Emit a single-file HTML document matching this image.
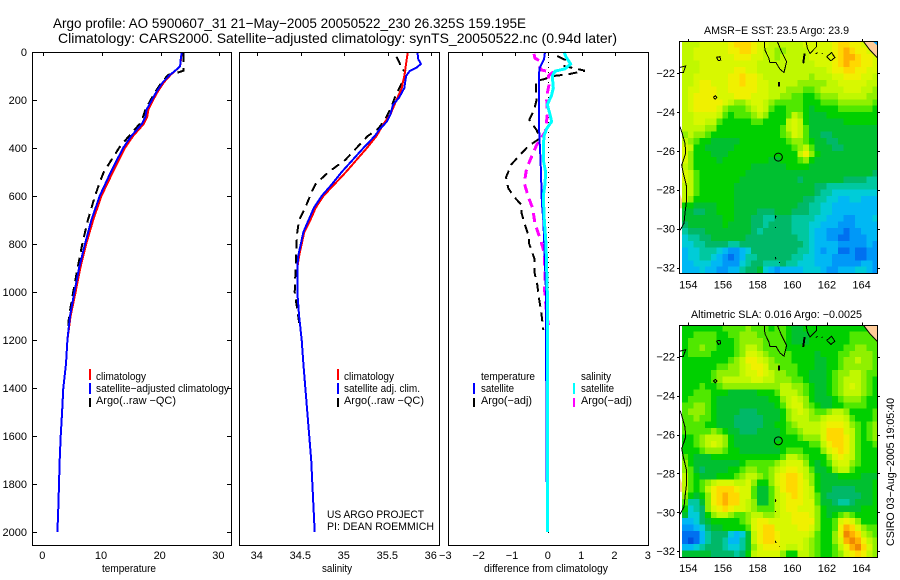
<!DOCTYPE html>
<html>
<head>
<meta charset="utf-8">
<title>Argo profile</title>
<style>
html,body{margin:0;padding:0;background:#fff}
svg{display:block}
text{font-family:"Liberation Sans",sans-serif;fill:#000;font-size:11px}
.t{font-size:14px}
</style>
</head>
<body>
<svg id="fig" width="900" height="580" viewBox="0 0 900 580" xmlns="http://www.w3.org/2000/svg">
<defs>
<clipPath id="clip1"><rect x="680" y="42" width="198" height="232"/></clipPath>
<clipPath id="clip2"><rect x="680" y="326" width="198" height="232"/></clipPath>
</defs>
<rect width="900" height="580" fill="#fff"/>
<text class="t" x="53" y="28" textLength="473" lengthAdjust="spacingAndGlyphs">Argo profile: AO 5900607_31 21−May−2005 20050522_230 26.325S 159.195E</text>
<text class="t" x="58" y="43" textLength="559" lengthAdjust="spacingAndGlyphs">Climatology: CARS2000. Satellite−adjusted climatology: synTS_20050522.nc (0.94d later)</text>

<g id="p1"></g>
<g id="p2"></g>
<g id="p3"></g>
<g id="m1"></g>
<g id="m2"></g>

<rect x="32.5" y="52.5" width="199" height="493" fill="none" stroke="#000"/>
<rect x="239.5" y="52.5" width="200" height="493" fill="none" stroke="#000"/>
<rect x="448.5" y="52.5" width="200" height="493" fill="none" stroke="#000"/>
<rect x="679.5" y="41.5" width="198" height="232" fill="none" stroke="#000"/>
<rect x="679.5" y="325.5" width="198" height="232" fill="none" stroke="#000"/>

<text x="102" y="572" textLength="54" lengthAdjust="spacingAndGlyphs">temperature</text>
<text x="322" y="572" textLength="30" lengthAdjust="spacingAndGlyphs">salinity</text>
<text x="484" y="572" textLength="124" lengthAdjust="spacingAndGlyphs">difference from climatology</text>

<g>
<line x1="90" x2="90" y1="369" y2="380" stroke="#f00" stroke-width="2"/>
<line x1="90" x2="90" y1="383" y2="394" stroke="#00f" stroke-width="2"/>
<line x1="90" x2="90" y1="398" y2="407" stroke="#000" stroke-width="2"/>
<text x="96" y="380" textLength="50" lengthAdjust="spacingAndGlyphs">climatology</text>
<text x="96" y="392" textLength="133" lengthAdjust="spacingAndGlyphs">satellite−adjusted climatology</text>
<text x="96" y="404" textLength="80" lengthAdjust="spacingAndGlyphs">Argo(..raw −QC)</text>
</g>
<g>
<line x1="338" x2="338" y1="369" y2="380" stroke="#f00" stroke-width="2"/>
<line x1="338" x2="338" y1="383" y2="394" stroke="#00f" stroke-width="2"/>
<line x1="338" x2="338" y1="398" y2="407" stroke="#000" stroke-width="2"/>
<text x="344" y="380" textLength="50" lengthAdjust="spacingAndGlyphs">climatology</text>
<text x="344" y="392" textLength="76" lengthAdjust="spacingAndGlyphs">satellite adj. clim.</text>
<text x="344" y="404" textLength="80" lengthAdjust="spacingAndGlyphs">Argo(..raw −QC)</text>
</g>
<text x="327" y="518" textLength="97" lengthAdjust="spacingAndGlyphs">US ARGO PROJECT</text>
<text x="327" y="530" textLength="107" lengthAdjust="spacingAndGlyphs">PI: DEAN ROEMMICH</text>

<g>
<line x1="474" x2="474" y1="383" y2="394" stroke="#00f" stroke-width="2"/>
<line x1="474" x2="474" y1="398" y2="407" stroke="#000" stroke-width="2"/>
<text x="481" y="380" textLength="54" lengthAdjust="spacingAndGlyphs">temperature</text>
<text x="481" y="392" textLength="33" lengthAdjust="spacingAndGlyphs">satellite</text>
<text x="481" y="404" textLength="51" lengthAdjust="spacingAndGlyphs">Argo(−adj)</text>
<line x1="574" x2="574" y1="383" y2="394" stroke="#0ff" stroke-width="2"/>
<line x1="574" x2="574" y1="398" y2="407" stroke="#f0f" stroke-width="2"/>
<text x="581" y="380" textLength="30" lengthAdjust="spacingAndGlyphs">salinity</text>
<text x="581" y="392" textLength="33" lengthAdjust="spacingAndGlyphs">satellite</text>
<text x="581" y="404" textLength="51" lengthAdjust="spacingAndGlyphs">Argo(−adj)</text>
</g>

<text x="704" y="34" textLength="145" lengthAdjust="spacingAndGlyphs">AMSR−E SST: 23.5 Argo: 23.9</text>
<text x="691" y="318" textLength="171" lengthAdjust="spacingAndGlyphs">Altimetric SLA: 0.016 Argo: −0.0025</text>
<text transform="translate(894,546) rotate(-90)" textLength="148" lengthAdjust="spacingAndGlyphs">CSIRO 03−Aug−2005 19:05:40</text>
</svg>

<script>
const depthTicks = [0,200,400,600,800,1000,1200,1400,1600,1800,2000];
const tempTicks = [0,10,20,30];
const salTicks = [34,34.5,35,35.5,36];
const salTickLabels = ['34','34.5','35','35.5','36'];
const diffTicks = [-3,-2,-1,0,1,2,3];
const lonTicks = [154,156,158,160,162,164];
const latTicks = [-22,-24,-26,-28,-30,-32];

const tempSatDepth = [0,30,60,75,95,125,165,200,240,270,300,350,400,500,600,700,800,900,1000,1100,1200,1300,1400,1500,1600,1700,1800,1900,2000];
const tempSat = [23.6,23.4,23.3,22.6,21.6,20.4,19.3,18.5,17.6,17.4,16.8,15.0,13.6,11.5,9.6,8.2,7.1,6.1,5.3,4.55,4.1,3.87,3.4,3.2,2.96,2.8,2.67,2.56,2.4];
const tempClimDepth = [0,60,95,125,165,200,240,270,300,350,400,500,600,700,800,900,1000,1100,1200];
const tempClim = [23.6,23.3,21.7,20.6,19.5,18.7,17.9,17.7,17.1,15.3,13.9,11.85,9.9,8.5,7.3,6.3,5.5,4.65,4.1];
const tempArgoDepth = [5,30,60,78,85,95,125,165,200,240,270,300,350,400,450,500,540,600,700,800,900,1000,1100,1150];
const tempArgo = [23.9,23.9,23.9,23.9,23,21.3,20.2,19.1,18.3,17.4,17.0,16.4,14.6,12.9,11.6,10.3,9.66,8.8,7.6,6.65,5.85,5.1,4.4,4.2];

const salSatDepth = [0,30,50,65,80,100,150,190,220,260,290,320,350,400,500,550,600,650,700,750,800,850,900,950,1000,1100,1200,1300,1500,1700,2000];
const salSat = [35.84,35.85,35.88,35.83,35.75,35.71,35.69,35.63,35.56,35.53,35.49,35.41,35.35,35.22,34.97,34.86,34.74,34.65,34.59,34.53,34.50,34.47,34.46,34.46,34.46,34.48,34.51,34.53,34.575,34.62,34.66];
const salClimDepth = [0,100,150,200,260,300,350,400,500,600,650,700,750,850,900,1000,1100];
const salClim = [35.73,35.69,35.66,35.60,35.53,35.45,35.37,35.26,35.02,34.76,34.67,34.61,34.54,34.48,34.46,34.46,34.48];
const salArgoDepth = [20,50,70,80,100,130,190,230,280,320,350,400,450,500,550,580,650,700,750,800,900,1000,1100,1150];
const salArgo = [35.60,35.64,35.65,35.70,35.69,35.66,35.58,35.54,35.47,35.39,35.27,35.14,35.01,34.82,34.67,34.63,34.55,34.48,34.46,34.45,34.44,34.43,34.47,34.49];

const diffTempSatDepth = [0,30,50,70,150,250,350,400,500,600,650,700,800,1000,1150,2000];
const diffTempSat = [-0.1,-0.13,-0.2,-0.27,-0.28,-0.28,-0.27,-0.25,-0.22,-0.2,-0.18,-0.15,-0.12,-0.07,-0.07,-0.04];
const diffSalSatDepth = [0,20,50,70,80,100,150,180,220,260,290,320,350,400,450,500,550,600,700,800,1000,1300,2000];
const diffSalSat = [0.47,0.53,0.67,0.5,0.2,0.12,0.15,0.1,-0.03,0.05,0.1,-0.05,-0.13,-0.15,-0.15,-0.08,-0.1,-0.15,-0.12,-0.07,-0.03,-0.02,-0.02];
const diffTempArgoDepth = [17,33,58,78,93,100,114,120,172,200,242,283,325,360,392,422,467,522,568,603,638,672,720,776,797,860,915,971,1026,1096,1158];
const diffTempArgo = [0.27,0.5,0.45,1.1,0.6,0.15,-0.15,-0.37,-0.37,-0.35,-0.43,-0.57,-0.35,-0.25,-0.6,-0.8,-1.1,-1.27,-1.2,-1.03,-0.8,-0.8,-0.7,-0.57,-0.58,-0.42,-0.42,-0.33,-0.28,-0.2,-0.15];
const diffSalArgoDepth = [8,26,36,61,75,85,100,137,186,262,332,388,429,485,547,603,651,714,776,832,908,992,1089,1158];
const diffSalArgo = [-0.43,-0.4,-0.27,-0.27,-0.2,0.13,0,0.02,-0.05,-0.03,-0.09,-0.35,-0.48,-0.65,-0.72,-0.6,-0.47,-0.4,-0.25,-0.13,-0.1,-0.11,-0.05,0.03];

const levelColors = ['#0050e0','#0070f0','#0098f8','#00b8f4','#00ccd8','#00c8a0','#00b868','#00c030','#00d000','#50e800','#90f000','#c0f800','#d8f800','#f0f000','#ffd800','#ffb000','#f08800'];

const sstLevels = [
[11,11,11,12,12,12,12,12,13,14,14,14,13,12,12,11,11,11,11,11,11,12,12,12,12,12,13,14,14,13,13,12,11,10],
[11,11,12,12,12,12,12,12,13,13,14,14,13,12,11,11,10,10,11,11,11,11,12,12,12,12,13,14,15,14,13,13,12,11],
[11,11,12,12,12,12,12,12,12,13,13,13,12,12,11,11,10,11,11,11,11,11,12,12,12,12,13,14,15,15,14,13,13,12],
[11,11,11,12,12,12,12,12,12,12,12,12,12,11,11,11,11,11,11,11,11,11,11,12,12,12,13,14,15,14,14,13,13,12],
[11,11,11,12,12,12,12,12,12,13,13,12,12,11,11,11,11,11,11,11,11,11,11,11,11,12,13,13,14,14,13,13,12,12],
[11,11,12,12,12,12,12,12,13,13,14,13,13,12,11,11,11,11,11,11,11,11,10,11,11,11,12,12,13,13,13,12,12,11],
[11,11,12,13,13,12,12,12,13,13,14,13,13,12,12,11,11,11,11,11,10,10,10,10,10,11,11,12,12,12,12,12,11,11],
[11,12,12,13,13,13,12,12,13,13,13,13,13,12,12,11,11,11,10,10,10,9,9,10,11,11,11,11,12,12,12,11,11,10],
[11,12,13,13,13,13,12,12,12,13,13,13,12,12,12,11,11,10,10,9,9,8,8,9,10,10,10,11,11,11,11,11,10,10],
[11,12,13,13,13,13,13,12,11,10,10,11,12,12,11,10,9,9,9,9,9,8,8,8,9,9,9,10,10,10,10,10,10,9],
[11,12,13,13,13,13,12,10,9,9,9,10,11,12,11,9,8,8,9,9,9,8,7,8,8,8,8,9,9,9,9,9,9,8],
[11,11,12,12,12,12,11,9,8,9,9,9,10,11,10,8,8,8,9,11,10,8,7,7,7,8,8,8,8,8,8,8,8,8],
[11,11,12,12,11,11,9,8,8,8,8,8,9,9,8,8,8,8,11,12,11,8,7,7,7,7,7,7,8,8,8,8,8,8],
[11,11,11,11,10,10,8,8,8,8,8,8,8,8,8,8,8,9,11,12,11,9,7,7,7,7,7,7,7,7,7,7,7,7],
[10,11,10,10,9,8,8,8,8,8,8,8,8,8,8,8,8,9,10,12,11,9,7,7,6,6,7,7,7,7,7,7,7,7],
[11,10,9,8,8,7,7,7,7,7,8,8,8,8,8,8,8,8,9,10,10,9,8,7,7,6,6,7,7,7,7,7,7,7],
[12,11,8,8,7,7,7,7,7,8,8,8,8,8,8,8,8,8,8,9,10,11,9,7,7,7,6,6,7,7,7,7,7,7],
[12,10,8,8,8,7,7,7,8,8,8,8,8,8,8,8,8,8,8,8,11,13,10,8,7,7,7,7,7,7,7,7,7,7],
[12,10,8,8,8,8,7,8,8,8,8,8,8,8,8,7,7,8,8,8,9,10,8,7,7,7,7,7,7,7,7,7,7,7],
[11,10,8,8,8,8,8,8,8,8,8,8,7,7,7,7,7,7,8,8,8,8,7,7,7,7,7,7,7,7,7,7,7,7],
[12,11,9,8,8,8,8,8,8,8,8,7,7,7,7,7,7,7,7,7,7,7,7,7,7,7,7,7,7,7,7,7,7,6],
[12,11,9,8,8,8,8,8,8,8,7,7,7,7,7,7,7,7,7,7,6,7,7,7,7,7,7,7,6,6,6,6,5,5],
[11,11,9,8,8,8,8,8,8,7,7,7,7,7,7,7,7,7,7,7,7,7,7,6,6,5,5,5,5,5,5,5,5,5],
[11,11,9,8,8,8,8,8,8,7,7,7,7,7,7,7,7,7,7,7,7,7,7,6,5,5,4,4,4,4,4,4,4,4],
[11,10,8,8,8,8,8,8,8,7,7,7,7,7,7,7,7,7,7,7,7,6,6,5,5,4,4,3,3,4,4,3,3,3],
[8,8,7,7,7,7,8,8,8,7,7,7,7,7,7,7,7,7,7,7,6,6,5,5,4,4,3,3,3,3,3,3,3,3],
[7,7,6,6,7,7,8,8,8,7,7,7,7,6,6,6,7,7,7,6,6,6,5,5,4,4,3,3,3,3,3,3,3,3],
[7,7,7,7,7,7,7,8,8,7,7,7,6,6,5,5,6,6,6,5,5,5,5,4,4,3,3,3,2,2,3,3,3,4],
[6,7,7,7,7,7,7,8,7,7,7,7,6,6,5,6,6,6,6,5,5,5,4,4,3,3,3,2,2,2,3,3,3,3],
[5,6,6,6,7,7,7,7,7,7,7,7,6,5,6,6,6,6,6,5,5,5,4,3,3,2,2,2,1,2,2,3,3,3],
[4,5,5,6,6,7,7,7,7,7,7,6,6,6,6,6,6,6,6,6,5,5,4,3,3,2,2,1,1,2,2,2,3,3],
[4,4,5,5,6,6,6,6,5,5,6,6,6,6,6,6,6,6,6,6,6,5,4,3,3,3,3,2,2,2,2,2,3,2],
[3,4,4,5,5,5,4,3,2,2,3,4,6,6,6,6,6,6,6,6,5,5,4,3,2,3,3,1,1,2,1,1,2,2],
[3,4,4,5,5,4,3,2,1,2,3,5,5,6,6,6,6,6,6,5,5,4,4,3,3,3,2,2,2,2,1,1,2,2],
[3,3,4,4,4,3,3,2,2,2,4,5,6,6,5,5,5,6,5,5,4,4,4,3,3,3,2,2,2,2,2,3,3,2],
[3,3,3,4,3,3,2,2,3,3,5,6,6,7,4,3,2,3,3,3,3,4,4,4,3,2,2,3,3,3,4,4,3,2]
];

const slaLevels = [
[8,8,8,8,8,8,8,9,9,9,9,10,9,9,9,8,9,9,8,7,7,8,8,8,8,8,8,8,8,8,8,8,8,8],
[8,8,9,9,9,9,8,8,9,9,10,10,10,9,9,9,9,9,8,7,7,7,8,8,8,8,8,8,8,9,9,9,9,8],
[8,9,9,9,9,9,8,8,8,9,10,10,10,10,9,9,9,9,8,7,7,7,8,8,8,8,8,8,8,9,9,9,9,9],
[8,9,9,10,9,9,8,8,8,9,10,11,11,10,9,9,9,9,8,8,8,8,8,8,8,8,8,8,9,9,10,10,9,9],
[8,9,9,9,9,8,8,8,8,9,10,12,12,11,10,9,9,9,9,8,8,8,8,7,8,8,8,9,9,10,10,10,10,9],
[8,8,8,8,8,8,8,8,9,10,11,13,13,12,11,10,9,9,9,8,8,8,8,7,7,8,8,9,10,10,11,10,10,9],
[8,8,8,8,8,8,9,9,10,10,11,12,13,13,12,10,10,9,9,9,8,8,8,7,7,8,8,9,10,10,10,10,10,9],
[8,8,8,8,8,9,10,10,10,10,11,12,12,13,12,11,10,10,9,9,8,8,7,7,7,8,9,10,10,11,11,10,9,9],
[8,8,8,8,8,9,10,11,11,11,11,11,12,12,11,11,10,10,10,9,9,8,7,7,7,8,9,10,11,11,11,10,9,8],
[8,8,8,9,8,8,9,10,10,10,10,10,10,10,10,10,10,11,11,10,10,9,8,7,7,8,9,10,11,12,11,10,9,8],
[8,8,9,9,9,8,8,8,7,7,7,7,7,8,8,8,9,11,11,11,10,9,8,7,7,8,9,10,11,11,11,10,9,8],
[8,9,9,9,9,8,7,7,7,7,7,7,7,7,7,8,8,10,11,12,11,10,8,7,7,7,8,9,10,10,10,9,8,8],
[9,9,10,10,9,8,7,7,7,7,7,7,7,7,7,7,8,9,11,12,12,10,9,8,7,7,8,8,9,9,9,9,8,8],
[9,10,10,10,9,8,7,7,7,7,6,6,6,7,7,7,7,8,10,11,12,11,10,9,9,10,11,11,10,8,8,8,8,9],
[9,9,10,9,9,8,7,7,7,6,6,6,6,6,7,7,7,8,10,11,11,11,10,10,11,12,12,12,11,9,8,8,8,9],
[9,9,9,9,8,8,7,7,7,6,6,6,6,6,7,7,8,8,9,10,11,11,11,11,12,13,13,13,12,10,9,8,9,10],
[9,9,9,9,9,10,9,8,7,7,6,6,6,7,7,7,7,8,9,9,10,11,11,11,12,14,14,14,12,11,9,8,9,10],
[8,8,9,10,11,11,11,10,8,7,7,7,7,7,7,7,7,8,8,8,9,10,10,10,12,14,14,14,13,11,9,8,9,10],
[8,8,9,10,11,12,11,10,8,7,7,7,7,7,7,7,8,8,8,8,8,8,9,9,11,13,14,14,13,11,9,8,8,9],
[8,8,8,9,10,10,10,9,8,8,7,7,7,7,7,7,7,8,9,9,9,8,8,8,10,12,13,14,13,11,9,8,8,8],
[9,8,7,7,7,8,8,8,8,8,8,8,8,8,8,8,8,9,11,11,10,9,8,8,8,10,12,13,12,11,9,8,8,8],
[10,8,7,7,7,7,7,7,7,7,8,9,9,9,9,9,10,11,12,12,12,10,8,7,8,9,11,12,12,10,9,8,8,8],
[10,9,7,6,7,7,7,7,8,8,9,10,10,9,9,10,11,12,13,13,12,11,9,7,7,8,10,11,11,9,8,8,8,8],
[11,9,8,7,7,7,8,8,8,9,10,11,11,10,9,10,12,13,14,14,13,11,10,8,7,7,7,8,8,8,8,7,7,7],
[11,9,8,9,10,11,12,12,12,11,11,12,10,8,8,10,12,13,14,14,13,12,10,8,7,7,7,7,7,7,7,7,7,8],
[11,9,8,9,11,13,14,14,14,13,12,12,9,7,7,9,11,13,14,14,13,12,11,8,7,7,6,6,6,6,7,7,7,8],
[10,8,7,8,10,13,14,15,14,14,12,12,9,7,7,9,11,12,13,14,13,12,11,9,7,6,6,6,6,6,6,7,7,8],
[9,5,5,7,10,13,14,15,14,14,12,11,10,7,7,9,11,12,13,13,13,12,12,9,7,7,6,5,5,6,7,7,7,8],
[8,4,5,6,10,12,13,14,13,12,12,11,10,9,9,9,11,12,13,13,12,12,12,10,8,7,7,7,7,7,7,8,8,8],
[7,4,4,6,8,10,11,11,10,9,9,10,11,11,10,10,11,12,12,13,13,13,12,10,8,7,8,9,10,9,8,8,8,8],
[3,3,4,6,7,8,8,8,8,8,9,10,12,13,13,12,12,12,12,13,13,13,13,10,8,8,9,12,13,12,10,8,8,8],
[2,2,3,4,6,7,7,8,8,8,8,9,12,13,14,14,12,12,12,12,13,13,12,10,8,8,9,13,15,14,12,10,9,9],
[1,1,1,3,5,6,6,6,4,3,4,7,11,13,14,14,13,12,12,12,12,12,11,9,8,8,10,13,16,15,14,11,10,9],
[1,0,1,3,5,6,6,5,3,3,5,7,11,13,14,14,13,12,12,12,12,11,10,9,8,8,10,12,15,16,15,13,11,10],
[3,3,4,5,6,6,6,5,4,4,5,7,10,12,13,13,13,12,11,11,12,11,10,9,8,8,9,11,13,15,16,14,12,10],
[7,7,7,7,7,6,6,6,6,5,6,8,11,12,12,12,12,10,8,8,11,11,10,9,8,8,9,10,12,13,14,13,11,10]
];

const coastLoops = [
[[158.38,-20.37],[158.42,-20.82],[158.65,-21.25],[158.71,-21.47],[159.06,-21.47],[159.29,-21.81],[159.52,-21.97],[159.67,-21.42],[159.38,-20.9],[159.13,-20.37]],
[[160.79,-20.37],[160.87,-20.73],[161.02,-20.99],[161.4,-20.65],[161.4,-20.37]],
[[161.35,-21.02],[161.46,-20.95]],
[[161.69,-21.02],[161.75,-20.99]],
[[161.98,-21.16],[162.27,-20.95],[162.46,-21.21],[162.23,-21.37],[161.98,-21.16]],
[[155.63,-21.19],[155.83,-21.16],[155.87,-21.33],[155.73,-21.37],[155.63,-21.19]],
[[155.44,-23.25],[155.56,-23.17],[155.65,-23.25],[155.56,-23.34],[155.44,-23.25]],
[[153.52,-21.71],[153.85,-21.64],[153.71,-21.98],[153.52,-21.98]],
[[153.52,-24.76],[153.62,-25.02],[153.81,-25.62],[153.85,-26.13],[153.62,-26.73],[153.71,-27.15],[153.9,-27.84],[153.9,-28.52],[153.81,-29.21],[153.75,-29.72],[153.52,-30.1]],
[[159.02,-29.47],[159.02,-29.35],[159.08,-29.4]],
[[159.02,-29.93],[159.02,-29.98]],
[[159.02,-31.47],[159.06,-31.58]],
[[159.25,-31.73],[159.25,-31.77]]
];
const thickCoast = [
[[160.71,-20.99],[160.63,-21.5]],
[[159.23,-22.45],[159.23,-22.7]]
];
const landNE = [[164.1,-20.37],[165,-20.37],[165,-21.3],[164.48,-20.82]];
const waterNE = [[164.63,-20.37],[165,-20.37],[165,-20.65]];
const landW = [[153.5,-28.18],[153.63,-28.5],[153.63,-28.95],[153.5,-28.95]];
const floatLon = 159.195;
const floatLat = -26.325;

const NS = 'http://www.w3.org/2000/svg';
function mk(parent, tag) { const e = document.createElementNS(NS, tag); parent.appendChild(e); return e; }

const yDepth = d => 52 + 0.24 * d;
const xTemp = v => 43.3 + 5.87 * v;
const xSal = v => 257.3 + 87 * (v - 34);
const xDiff = v => 548.3 + 33.33 * v;

function series(parent, depths, vals, xf, color, width, dash) {
  const p = mk(parent, 'polyline');
  p.setAttribute('points', depths.map((d, i) => xf(vals[i]).toFixed(1) + ',' + yDepth(d).toFixed(1)).join(' '));
  p.setAttribute('fill', 'none');
  p.setAttribute('stroke', color);
  p.setAttribute('stroke-width', width);
  p.setAttribute('shape-rendering', 'crispEdges');
  if (dash) p.setAttribute('stroke-dasharray', dash);
  return p;
}
function tick(parent, x1, y1, x2, y2) {
  const l = mk(parent, 'line');
  l.setAttribute('x1', x1); l.setAttribute('y1', y1);
  l.setAttribute('x2', x2); l.setAttribute('y2', y2);
  l.setAttribute('stroke', '#000');
  l.setAttribute('shape-rendering', 'crispEdges');
  
  
}
function label(parent, x, y, s, anchor) {
  const t = mk(parent, 'text');
  t.setAttribute('x', x); t.setAttribute('y', y);
  t.setAttribute('text-anchor', anchor);
  t.textContent = s;
  
  
}

const p1 = document.getElementById('p1');
const p2 = document.getElementById('p2');
const p3 = document.getElementById('p3');

depthTicks.forEach(d => {
  const y = Math.round(yDepth(d)) + 0.5;
  tick(p1, 32.5, y, 37, y);
  tick(p1, 231, y, 227, y);
  label(p1, 27, yDepth(d) + 4, String(d), 'end');
});
tempTicks.forEach(v => {
  const x = Math.round(xTemp(v)) + 0.5;
  tick(p1, x, 52.5, x, 56);
  label(p1, xTemp(v) - 1, 559, String(v), 'middle');
});
salTicks.forEach((v, i) => {
  const x = Math.round(xSal(v)) + 0.5;
  tick(p2, x, 52.5, x, 56);
  label(p2, xSal(v) - 0.5, 559, salTickLabels[i], 'middle');
});
diffTicks.forEach(v => {
  const x = Math.round(xDiff(v)) + 0.5;
  if (Math.abs(v) < 3) tick(p3, x, 52.5, x, 56);
  label(p3, xDiff(v) - (v < 0 ? 3 : 0.5), 559, v < 0 ? '−' + (-v) : String(v), 'middle');
});

const tA = series(p1, tempArgoDepth, tempArgo, xTemp, '#000', 2, '9,6');


const tC = series(p1, tempClimDepth, tempClim, xTemp, '#f00', 2);


const tS = series(p1, tempSatDepth, tempSat, xTemp, '#00f', 2);



const sA = series(p2, salArgoDepth, salArgo, xSal, '#000', 2, '9,6');


const sC = series(p2, salClimDepth, salClim, xSal, '#f00', 2);


const sS = series(p2, salSatDepth, salSat, xSal, '#00f', 2);



const zero = mk(p3, 'line');
zero.setAttribute('x1', 548.5); zero.setAttribute('x2', 548.5);
zero.setAttribute('y1', 52); zero.setAttribute('y2', 537);
zero.setAttribute('stroke', '#000');
zero.setAttribute('stroke-dasharray', '1,4');
zero.setAttribute('shape-rendering', 'crispEdges');



const dTA = series(p3, diffTempArgoDepth, diffTempArgo, xDiff, '#000', 2, '9,6');


const dSA = series(p3, diffSalArgoDepth, diffSalArgo, xDiff, '#f0f', 3, '9,6');


const dTS = series(p3, diffTempSatDepth, diffTempSat, xDiff, '#00f', 2);


const dSS = series(p3, diffSalSatDepth, diffSalSat, xDiff, '#0ff', 3);



function drawMap(group, levels, top, clipId, showWater, cellName) {
  const xLon = v => 688.3 + 17.33 * (v - 154);
  const yLat = v => top + 31.7 + 19.45 * (-22 - v);
  const clipG = mk(group, 'g');
  clipG.setAttribute('clip-path', 'url(#' + clipId + ')');
  const cw = 5.77, ch = 6.44;
  levels.forEach((row, r) => row.forEach((lv, c) => {
    const cell = mk(clipG, 'rect');
    cell.setAttribute('x', (682 + c * cw).toFixed(2));
    cell.setAttribute('y', (top + r * ch).toFixed(2));
    cell.setAttribute('width', cw + 0.4);
    cell.setAttribute('height', ch + 0.4);
    cell.setAttribute('fill', levelColors[Math.max(0, Math.min(16, Math.round(lv)))]);
    cell.setAttribute('shape-rendering', 'crispEdges');
    
    
  }));
  const ptsOf = arr => arr.map(p => xLon(p[0]).toFixed(1) + ',' + yLat(p[1]).toFixed(1)).join(' ');
  const land = mk(clipG, 'polygon');
  land.setAttribute('points', ptsOf(landNE));
  land.setAttribute('fill', '#ffcc99');
  land.setAttribute('stroke', '#000');
  
  
  if (showWater) {
    const water = mk(clipG, 'polygon');
    water.setAttribute('points', ptsOf(waterNE));
    water.setAttribute('fill', '#00a0ff');
    
    
  }
  const landWest = mk(clipG, 'polygon');
  landWest.setAttribute('points', ptsOf(landW));
  landWest.setAttribute('fill', '#ffcc99');
  
  
  coastLoops.forEach(loop => {
    const l = mk(clipG, 'polyline');
    l.setAttribute('points', ptsOf(loop));
    l.setAttribute('fill', 'none');
    l.setAttribute('stroke', '#000');
    l.setAttribute('stroke-width', '1');
    l.setAttribute('shape-rendering', 'crispEdges');
    
    
  });
  thickCoast.forEach(loop => {
    const l = mk(clipG, 'polyline');
    l.setAttribute('points', ptsOf(loop));
    l.setAttribute('fill', 'none');
    l.setAttribute('stroke', '#000');
    l.setAttribute('stroke-width', '2');
    l.setAttribute('shape-rendering', 'crispEdges');
    
    
  });
  const circ = mk(clipG, 'circle');
  circ.setAttribute('cx', xLon(floatLon));
  circ.setAttribute('cy', yLat(floatLat));
  circ.setAttribute('r', 4);
  circ.setAttribute('fill', 'none');
  circ.setAttribute('stroke', '#000');
  
  
  lonTicks.forEach(v => {
    const x = Math.round(xLon(v)) + 0.5;
    tick(group, x, top - 2.5, x, top + 0.5);
    label(group, xLon(v), top + 247, String(v), 'middle');
  });
  latTicks.forEach(v => {
    const y = Math.round(yLat(v)) + 0.5;
    tick(group, 677, y, 679.5, y);
    tick(group, 877.5, y, 880, y);
    label(group, 675, yLat(v) + 4, '−' + (-v), 'end');
  });
}
drawMap(document.getElementById('m1'), sstLevels, 41.3, 'clip1', true, 'sst-cell');
drawMap(document.getElementById('m2'), slaLevels, 325, 'clip2', false, 'sla-cell');
</script>
</body>
</html>
